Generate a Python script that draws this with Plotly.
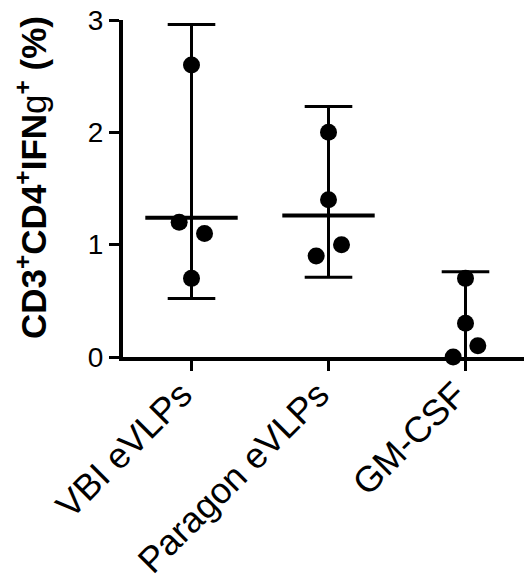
import plotly.graph_objects as go

# ---- data ----
categories = ["VBI eVLPs", "Paragon eVLPs", "GM-CSF"]
vbi_values = [2.60, 1.20, 1.10, 0.70]
paragon_values = [2.00, 1.40, 1.00, 0.90]
gmcsf_values = [0.70, 0.30, 0.10, 0.00]
center_values = [1.24, 1.26, 0.00]      # horizontal centre line per group
upper_values = [2.96, 2.23, 0.76]       # upper whisker
lower_values = [0.52, 0.71, 0.00]       # lower whisker
y_tick_values = [0, 1, 2, 3]

# horizontal scatter offsets of the dots (layout only)
jitter = {
    0: [0.0, -0.09, 0.095, 0.0],
    1: [0.0, 0.0, 0.095, -0.09],
    2: [0.0, 0.0, 0.09, -0.09],
}
group_values = [vbi_values, paragon_values, gmcsf_values]

FONT = "Liberation Sans, Arial, Helvetica, sans-serif"
xs = list(range(len(categories)))

fig = go.Figure()

# whisker vertical segments
for i in xs:
    fig.add_trace(go.Scatter(
        x=[i, i], y=[lower_values[i], upper_values[i]],
        mode="lines", line=dict(color="black", width=3),
        cliponaxis=False, showlegend=False, hoverinfo="skip",
    ))

# whisker caps (skip those lying on the baseline)
cap_x = [i for i in xs if upper_values[i] > 0] + [i for i in xs if lower_values[i] > 0]
cap_y = [upper_values[i] for i in xs if upper_values[i] > 0] + \
        [lower_values[i] for i in xs if lower_values[i] > 0]
fig.add_trace(go.Scatter(
    x=cap_x, y=cap_y, mode="markers",
    marker=dict(symbol="line-ew", size=34, color="black",
                line=dict(color="black", width=3)),
    cliponaxis=False, showlegend=False, hoverinfo="skip",
))

# centre lines (skip those lying on the baseline)
fig.add_trace(go.Scatter(
    x=[i for i in xs if center_values[i] > 0],
    y=[center_values[i] for i in xs if center_values[i] > 0],
    mode="markers",
    marker=dict(symbol="line-ew", size=66, color="black",
                line=dict(color="black", width=4)),
    cliponaxis=False, showlegend=False, hoverinfo="skip",
))

# individual dots
for i, vals in enumerate(group_values):
    fig.add_trace(go.Scatter(
        x=[i + d for d in jitter[i]],
        y=vals,
        mode="markers",
        marker=dict(symbol="circle", size=17, color="black"),
        cliponaxis=False, showlegend=False,
    ))

fig.update_layout(
    width=524, height=580,
    margin=dict(l=123, r=0, t=20, b=223),
    plot_bgcolor="white", paper_bgcolor="white",
    font=dict(family=FONT, color="black", size=28),
    xaxis=dict(
        range=[-0.5, 2.427], automargin=False,
        tickmode="array", tickvals=xs, ticktext=categories,
        tickangle=-45, ticks="outside", ticklen=10, tickwidth=3, tickcolor="black",
        ticklabelstandoff=-12, ticklabelshift=-10,
        showline=True, linewidth=4, linecolor="black",
        showgrid=False, zeroline=False,
        tickfont=dict(family=FONT, size=36, color="black"),
    ),
    yaxis=dict(
        range=[0, 3], automargin=False,
        tickmode="array", tickvals=y_tick_values,
        ticks="outside", ticklen=10, tickwidth=2.5, tickcolor="black",
        showline=True, linewidth=4, linecolor="black",
        showgrid=False, zeroline=False,
        tickfont=dict(family=FONT, size=28, color="black"),
    ),
    annotations=[dict(
        text="<b>CD3<sup>+</sup>CD4<sup>+</sup>IFN</b>g<b><sup>+</sup> (%)</b>",
        xref="paper", yref="paper",
        x=(31 - 123) / 401, y=(357 - 178) / 337,
        xanchor="center", yanchor="middle",
        textangle=-90, showarrow=False,
        font=dict(family=FONT, size=35, color="black"),
    )],
)

fig.write_html("out.html")
